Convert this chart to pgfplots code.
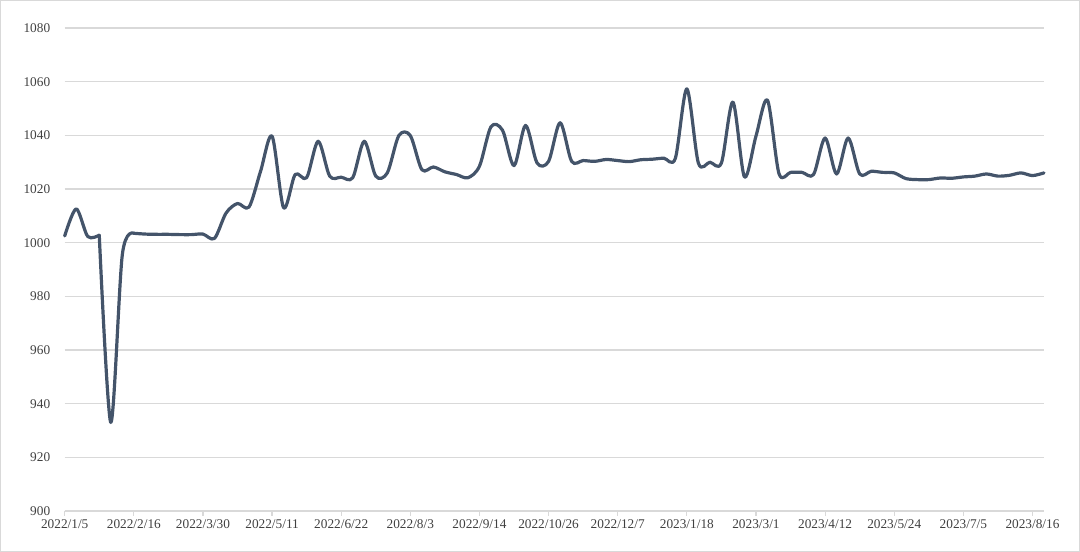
\documentclass[border=0pt]{standalone}
\usepackage{fontspec}
\setmainfont{Liberation Serif}
\usepackage{pgfplots}
\pgfplotsset{compat=1.18}
\definecolor{lineblue}{HTML}{44546A}
\definecolor{gridgray}{HTML}{D9D9D9}
\definecolor{labelgray}{HTML}{404040}
\tikzset{ser/.style={lineblue, line width=3.2pt, smooth, tension=0.5, line cap=round, line join=round, mark=none}}
\begin{document}
\begin{tikzpicture}
\useasboundingbox (0,0) rectangle (1080pt,552pt);
\draw[gridgray, line width=1.2pt] (0.8pt,0.8pt) rectangle (1079.2pt,551.2pt);
\begin{axis}[
  at={(64.7pt,41pt)}, anchor=south west,
  scale only axis, width=979.3pt, height=483pt,
  xmin=0, xmax=85, ymin=900, ymax=1080,
  axis lines*=left,
  y axis line style={draw=none},
  x axis line style={draw=gridgray, line width=1.2pt},
  xtick={0,6,...,84},
  xticklabels={2022/1/5,2022/2/16,2022/3/30,2022/5/11,2022/6/22,2022/8/3,2022/9/14,2022/10/26,2022/12/7,2023/1/18,2023/3/1,2023/4/12,2023/5/24,2023/7/5,2023/8/16},
  ytick={900,920,...,1080},
  tick align=outside,
  major tick length=5pt,
  xtick style={draw=gridgray, line width=1.2pt},
  ytick style={draw=none},
  ymajorgrids, grid style={gridgray, line width=1.2pt},
  ticklabel style={font=\fontsize{13.3pt}{15pt}\selectfont, text=labelgray},
  yticklabel style={xshift=-6pt},
  /pgf/number format/assume math mode=true,
  /pgf/number format/1000 sep={},
  clip=false,
]
% the series is drawn in three pieces so the deep dip does not bulge its neighbours
\addplot[ser] coordinates {
(0,1002.5) (1,1012.6) (2,1002.3) (3,1002.8)
};
\addplot[ser] coordinates {
(3,1002.8) (4,933) (5,995.5) (6,1003.5)
};
\addplot[ser] coordinates {
(6,1003.5) (7,1003.2)
(8,1003.1) (9,1003.1) (10,1003) (11,1003) (12,1003.2) (13,1001.6) (14,1011) (15,1014.6)
(16,1013.3) (17,1026.6) (18,1039.7) (19,1013) (20,1025.4) (21,1024.2) (22,1037.8) (23,1024.8)
(24,1024.4) (25,1024.2) (26,1037.8) (27,1024.8) (28,1026) (29,1039.9) (30,1039.9) (31,1027.2)
(32,1028.2) (33,1026.4) (34,1025.4) (35,1024.2) (36,1028.5) (37,1043.2) (38,1041.9) (39,1028.7)
(40,1043.7) (41,1029.7) (42,1030.3) (43,1044.7) (44,1030.3) (45,1030.6) (46,1030.3) (47,1031)
(48,1030.6) (49,1030.2) (50,1030.9) (51,1031.1) (52,1031.5) (53,1031.4) (54,1057.3) (55,1029.7)
(56,1030) (57,1029.7) (58,1052.4) (59,1024.5) (60,1039.7) (61,1053.1) (62,1025.7) (63,1026.2)
(64,1026.2) (65,1025.4) (66,1039) (67,1025.6) (68,1039) (69,1025.6) (70,1026.6) (71,1026.2)
(72,1026) (73,1023.9) (74,1023.5) (75,1023.5) (76,1024.1) (77,1024) (78,1024.5) (79,1024.8)
(80,1025.6) (81,1024.8) (82,1025.1) (83,1026) (84,1025) (85,1026)
};
\end{axis}
\end{tikzpicture}
\end{document}
